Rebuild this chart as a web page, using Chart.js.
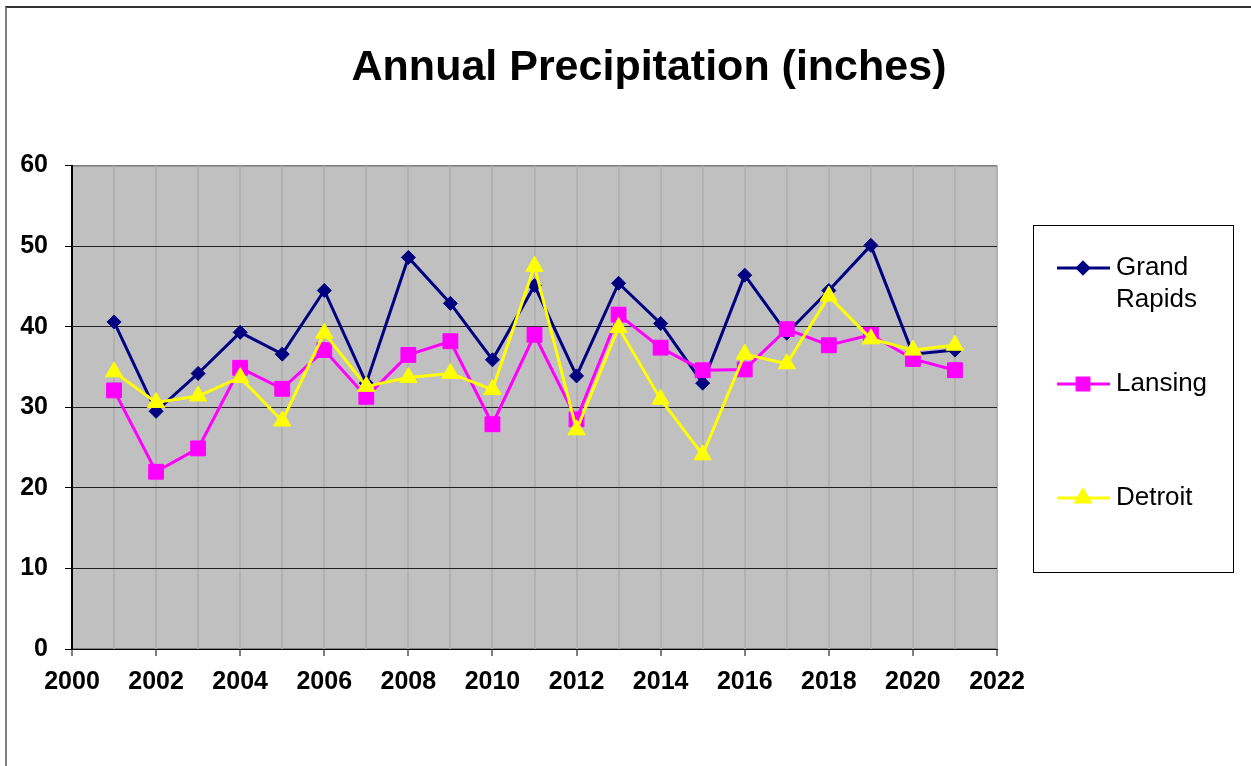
<!DOCTYPE html>
<html>
<head>
<meta charset="utf-8">
<script src="https://cdn.jsdelivr.net/npm/chart.js@4"></script>
<style>
  html, body { margin: 0; padding: 0; background: #fff; overflow: hidden; }
  #wrap { position: relative; width: 1251px; height: 766px; }
  #frame { position: absolute; left: 5px; top: 6px; width: 1300px; height: 800px;
           border-left: 2px solid #808080; border-top: 2px solid #333; box-sizing: border-box; }
  canvas { position: absolute; left: 0; top: 0; }
</style>
</head>
<body>
<div id="wrap">
  <div id="frame"></div>
  <canvas id="precipChart" width="1251" height="766"></canvas>
</div>
<script>
// Datos
const years = [2001, 2002, 2003, 2004, 2005, 2006, 2007, 2008, 2009, 2010, 2011,
               2012, 2013, 2014, 2015, 2016, 2017, 2018, 2019, 2020, 2021];
const grandRapids = [40.6, 29.5, 34.2, 39.3, 36.6, 44.5, 33.0, 48.6, 42.9, 35.9, 45.1,
                     33.9, 45.4, 40.4, 33.0, 46.4, 39.2, 44.5, 50.1, 36.6, 37.1];
const lansing = [32.1, 22.0, 24.9, 34.9, 32.3, 37.1, 31.3, 36.5, 38.2, 27.9, 39.0,
                 28.5, 41.5, 37.4, 34.6, 34.7, 39.7, 37.7, 39.0, 36.0, 34.6];
const detroit = [34.4, 30.6, 31.4, 33.7, 28.3, 39.2, 32.6, 33.7, 34.2, 32.2, 47.5,
                 27.2, 39.9, 31.0, 24.1, 36.6, 35.4, 43.8, 38.5, 37.1, 37.7];
const seriesNames = ['Grand Rapids', 'Lansing', 'Detroit'];
const yTicks = [0, 10, 20, 30, 40, 50, 60];

const FONT = 'Arial, "Liberation Sans", sans-serif';

function toPoints(values) {
    return values.map((v, i) => ({ x: years[i], y: v }));
}

// El titulo se centra sobre todo el grafico (incluida la leyenda)
const titleSpan = {
    id: 'titleSpan',
    afterLayout(chart) {
        if (chart.titleBlock) {
            chart.titleBlock.left = 47;
            chart.titleBlock.right = 1251;
        }
    }
};

// Fondo gris del area de trazado
const plotBackground = {
    id: 'plotBackground',
    beforeDraw(chart) {
        const { ctx, chartArea: a } = chart;
        ctx.save();
        ctx.fillStyle = '#C0C0C0';
        ctx.fillRect(a.left, a.top, a.right - a.left, a.bottom - a.top);
        ctx.strokeStyle = '#808080';
        ctx.lineWidth = 1;
        ctx.strokeRect(a.left + 0.5, a.top + 0.5, a.right - a.left - 1, a.bottom - a.top - 1);
        ctx.restore();
    }
};

// Leyenda tipo Excel dibujada a mano
const boxLegend = {
    id: 'boxLegend',
    afterDraw(chart) {
        const ctx = chart.ctx;
        ctx.save();
        ctx.strokeStyle = '#000';
        ctx.lineWidth = 1;
        ctx.strokeRect(1033.5, 225.5, 200, 347);
        const rows = [268, 384, 498];
        const labels = [['Grand', 'Rapids'], ['Lansing'], ['Detroit']];
        ctx.textBaseline = 'middle';
        chart.data.datasets.forEach((ds, i) => {
            const y = rows[i];
            ctx.strokeStyle = ds.borderColor;
            ctx.lineWidth = 3;
            ctx.beginPath();
            ctx.moveTo(1057, y);
            ctx.lineTo(1110, y);
            ctx.stroke();
            ctx.fillStyle = ds.backgroundColor;
            ctx.strokeStyle = ds.borderColor;
            Chart.helpers.drawPoint(ctx, {
                pointStyle: ds.pointStyle,
                radius: ds.pointRadius * 0.8,
                borderWidth: 1
            }, 1083, y);
            ctx.fillStyle = '#000';
            ctx.font = '26px ' + FONT;
            labels[i].forEach((t, k) => ctx.fillText(t, 1116, y + k * 32));
        });
        ctx.restore();
    }
};

function styleDataset(label, values, color, style, radius, order) {
    return {
        label: label,
        data: toPoints(values),
        borderColor: color,
        backgroundColor: color,
        pointBackgroundColor: color,
        pointBorderColor: color,
        borderWidth: 3,
        pointStyle: style,
        pointRadius: radius,
        pointBorderWidth: 1,
        tension: 0,
        order: order
    };
}

const ctx = document.getElementById('precipChart').getContext('2d');
const chart = new Chart(ctx, {
    type: 'line',
    data: {
        datasets: [
            styleDataset(seriesNames[0], grandRapids, '#000080', 'rectRot', 7, 2),
            styleDataset(seriesNames[1], lansing, '#FF00FF', 'rect', 10.5, 1),
            styleDataset(seriesNames[2], detroit, '#FFFF00', 'triangle', 10, 0)
        ]
    },
    options: {
        responsive: false,
        animation: false,
        layout: { padding: { left: 0, right: 254, top: 0, bottom: 0 } },
        plugins: {
            legend: { display: false },
            tooltip: { enabled: false },
            title: {
                display: true,
                text: 'Annual Precipitation (inches)',
                color: '#000',
                font: { family: FONT, size: 43, weight: 'bold' },
                padding: { top: 42, bottom: 72 }
            }
        },
        scales: {
            x: {
                type: 'linear',
                min: 2000,
                max: 2022,
                afterFit(scale) { scale.height = 117; },
                afterBuildTicks(scale) {
                    scale.ticks = [];
                    for (let yr = 2000; yr <= 2022; yr++) scale.ticks.push({ value: yr });
                },
                border: { color: '#000', width: 1 },
                grid: {
                    color: ctx => ctx.tick && ctx.tick.value === 2000 ? '#000' : '#B2B2B2',
                    lineWidth: 2,
                    tickLength: 7,
                    tickColor: ctx => ctx.tick && ctx.tick.value % 2 === 0 ? '#000' : 'rgba(0,0,0,0)',
                    tickWidth: 1
                },
                ticks: {
                    autoSkip: false,
                    maxRotation: 0,
                    padding: 11,
                    color: '#000',
                    font: { family: FONT, size: 25, weight: 'bold' },
                    callback: v => (v % 2 === 0 ? String(v) : '')
                }
            },
            y: {
                min: 0,
                max: 60,
                afterFit(scale) { scale.width = 72; },
                afterBuildTicks(scale) { scale.ticks = yTicks.map(v => ({ value: v })); },
                border: { color: '#000', width: 1 },
                grid: {
                    color: ctx => ctx.tick && ctx.tick.value === 60 ? '#808080' : '#222',
                    lineWidth: 1,
                    tickLength: 7,
                    tickColor: '#000'
                },
                ticks: {
                    padding: 17,
                    color: '#000',
                    font: { family: FONT, size: 25, weight: 'bold' }
                }
            }
        }
    },
    plugins: [titleSpan, plotBackground, boxLegend]
});
</script>
</body>
</html>
